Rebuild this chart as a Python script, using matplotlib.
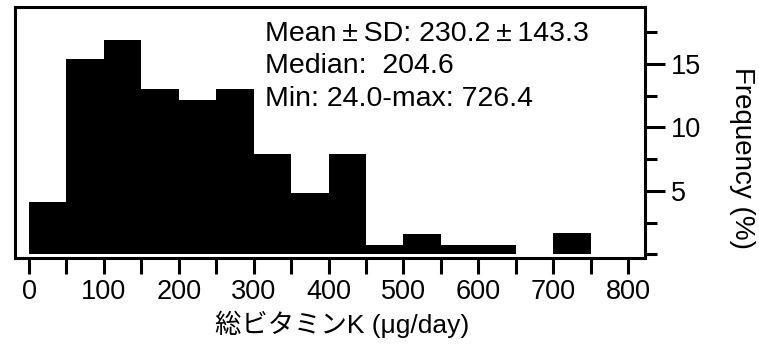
import matplotlib
matplotlib.use("Agg")
import matplotlib.pyplot as plt
from matplotlib.ticker import MultipleLocator

plt.rcParams['font.family'] = ['Liberation Sans', 'Noto Sans CJK JP', 'DejaVu Sans']

# histogram bins (µg/day) and frequency (%)
bin_left = [0, 50, 100, 150, 200, 250, 300, 350, 400, 450, 500, 550, 600, 650, 700, 750]
freq = [4.1, 15.4, 16.9, 13.0, 12.2, 13.0, 7.9, 4.8, 7.9, 0.7, 1.6, 0.7, 0.7, 0.0, 1.7, 0.0]
x_ticks = [0, 100, 200, 300, 400, 500, 600, 700, 800]
y_ticks = [5, 10, 15]
stats_lines = ["Mean\u2009\u00b1\u2009SD: 230.2\u2009\u00b1\u2009143.3",
               "Median:  204.6",
               "Min: 24.0-max: 726.4"]

W, H = 759, 353
fig = plt.figure(figsize=(W / 100, H / 100), dpi=100)
ax = fig.add_axes([15 / W, 1 - 258 / H, (645 - 15) / W, (258 - 7) / H])

ax.bar(bin_left, freq, width=50, align='edge', color='black', linewidth=0)

ax.set_xlim(-18.7, 822.7)
ax.set_ylim(-0.3, 19.5)

for s in ax.spines.values():
    s.set_linewidth(2.2)

ax.set_xticks(x_ticks)
ax.xaxis.set_minor_locator(MultipleLocator(50))
ax.tick_params(axis='x', which='both', direction='out', length=11.5, width=2.2,
               labelsize=19.5, pad=3.5)

ax.yaxis.tick_right()
ax.set_yticks(y_ticks)
ax.yaxis.set_minor_locator(MultipleLocator(2.5))
ax.tick_params(axis='y', which='major', direction='out', length=14.4, width=2.2,
               labelsize=19.5, pad=4)
ax.tick_params(axis='y', which='minor', direction='out', length=8.6, width=2.2)
ax.tick_params(axis='y', which='both', left=False)

# text blocks
for line, yc in zip(stats_lines, [34, 66, 99]):
    fig.text(265 / W, 1 - yc / H, line, fontsize=20.5, ha='left', va='center')

fig.text(342 / W, 1 - 324 / H, "総ビタミンK (μg/day)", fontsize=19, ha='center', va='center')
fig.text(742 / W, 1 - 158 / H, "Frequency (%)", fontsize=20, rotation=270,
         ha='center', va='center')

fig.savefig("out.png", dpi=100)
